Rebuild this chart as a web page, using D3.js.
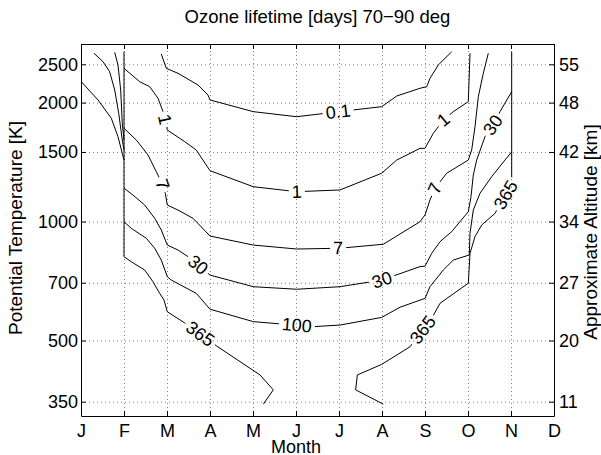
<!DOCTYPE html>
<html>
  <head>
    <title>Ozone lifetime</title>
    <script src="https://cdnjs.cloudflare.com/ajax/libs/d3/7.8.5/d3.min.js"></script>
    <style>
      body {
        margin: 0;
        background: #ffffff;
      }
      svg {
        font-family: "Liberation Sans", Arial, Helvetica, sans-serif;
      }
      .grid line {
        stroke: #808080;
        stroke-width: 1px;
        stroke-dasharray: 1, 3;
      }
      .grid .domain {
        display: none;
      }
      .axis .domain,
      .axis line {
        stroke: #000;
        stroke-width: 1px;
      }
      .axis text {
        font-size: 18px;
        fill: #000;
      }
      .contour {
        fill: none;
        stroke: #000;
        stroke-width: 1px;
      }
      .clabel {
        font-size: 18px;
        fill: #000;
      }
    </style>
  </head>
  <body>
    <svg id="chart" width="601" height="455"></svg>
    <script>
      // axis data
      const months = [1, 2, 3, 4, 5, 6, 7, 8, 9, 10, 11, 12];
      const monthLabels = ["J", "F", "M", "A", "M", "J", "J", "A", "S", "O", "N", "D"];
      const thetaTicks = [350, 500, 700, 1000, 1500, 2000, 2500];
      const altitudeLabels = ["11", "20", "27", "34", "42", "48", "55"];

      // contour lines, [month, potential temperature K], one array per piece
      const level01 = [
        [[1.007, 2259], [1.395, 2031], [1.705, 1825], [1.86, 1640], [1.96, 1488], [2, 1431]],
        [[2.867, 2655], [2.984, 2442], [3.256, 2372], [3.721, 2216], [3.953, 2090], [4, 2031],
         [5.007, 1897], [6.016, 1842], [7.333, 1916], [7.993, 1953], [8.342, 2078], [8.884, 2174],
         [9.04, 2194], [9.116, 2304], [9.309, 2490], [9.621, 2690]]
      ];
      const level1 = [
        [[1.302, 2666], [1.512, 2538], [1.667, 2394], [1.784, 2152], [1.877, 1879], [1.96, 1608], [2, 1517]],
        [[2, 2442], [2.093, 2394], [2.365, 2259], [2.598, 2194], [2.791, 2051], [2.907, 1897],
         [3.007, 1705], [3.412, 1593], [3.681, 1517], [4, 1345], [5.007, 1225], [6.016, 1190],
         [7.023, 1202], [7.993, 1325], [8.342, 1431], [8.884, 1532], [9, 1532], [9.193, 1672],
         [9.426, 1807], [9.658, 1897], [10.007, 2011], [10.047, 2666]]
      ];
      const level7 = [
        [[1.784, 2680], [1.86, 2490], [1.923, 2152], [1.96, 1773], [2, 1608]],
        [[2, 1722], [2.286, 1608], [2.558, 1474], [2.751, 1337], [2.867, 1261], [2.96, 1179],
         [3.007, 1101], [3.256, 1069], [3.605, 1019], [4, 919], [5.007, 872], [6.016, 852],
         [7.023, 856], [8.03, 876], [8.884, 999], [9, 1039], [9.116, 1134], [9.233, 1214],
         [9.505, 1325], [10.007, 1431], [10.086, 1517], [10.163, 1738], [10.24, 2070],
         [10.356, 2372], [10.472, 2666]]
      ];
      const level30 = [
        [[2, 1214], [2.209, 1167], [2.481, 1101], [2.714, 1019], [2.867, 952], [3.007, 872],
         [3.256, 847], [3.488, 815], [4, 732], [5.007, 684], [6.016, 674], [7.023, 684],
         [7.993, 711], [8.884, 769], [9, 771], [9.156, 831], [9.349, 889], [9.621, 943],
         [10.007, 1059], [10.07, 1156], [10.123, 1311], [10.202, 1431], [10.395, 1640],
         [10.581, 1755], [10.744, 1897], [11.016, 2131]]
      ];
      const level100 = [
        [[2, 999], [2.17, 961], [2.519, 907], [2.714, 856], [2.867, 799], [3.007, 725], [3.1, 711],
         [3.681, 658], [4, 600], [5.007, 558], [6.402, 542], [7.023, 547], [7.993, 572],
         [8.419, 607], [9, 639], [9.116, 684], [9.426, 754], [9.658, 799], [10.03, 823],
         [10.047, 934], [10.123, 1069], [10.279, 1179], [10.551, 1299], [10.86, 1431], [11.016, 1500]]
      ];
      const level365 = [
        [[2, 2690], [2, 815], [2.17, 791], [2.481, 754], [2.674, 704], [2.83, 658], [2.93, 633],
         [3.007, 591], [3.412, 554], [4.156, 484], [5.163, 409], [5.472, 375], [5.24, 345]],
        [[8.03, 345], [7.388, 375], [7.426, 409], [7.993, 435], [8.651, 482], [9.156, 569],
         [9.349, 621], [10.007, 698], [10.047, 831], [10.163, 916], [10.319, 980],
         [10.628, 1049], [11.016, 1237], [11.016, 2690]]
      ];

      // months at which each level carries an inline label
      const labels01 = [6.98];
      const labels1 = [2.95, 6.02, 9.43];
      const labels7 = [2.89, 6.98, 9.23];
      const labels30 = [3.72, 8.0, 10.58];
      const labels100 = [6.02];
      const labels365 = [3.77, 8.95, 10.88];

      const contours = [
        { text: "0.1", segments: level01, at: labels01 },
        { text: "1", segments: level1, at: labels1 },
        { text: "7", segments: level7, at: labels7 },
        { text: "30", segments: level30, at: labels30 },
        { text: "100", segments: level100, at: labels100 },
        { text: "365", segments: level365, at: labels365 },
      ];

      const svg = d3.select("#chart");
      const plotLeft = 81, plotRight = 554, plotTop = 44, plotBottom = 416;

      const x = d3.scaleLinear().domain([1, 12]).range([plotLeft, plotRight]);
      const y = d3.scaleLog().domain([322, 2814]).range([plotBottom, plotTop]);

      // dotted grid
      svg.append("g")
        .attr("class", "grid")
        .attr("transform", `translate(0,${plotBottom})`)
        .call(d3.axisBottom(x).tickValues(months.slice(1, -1)).tickSize(-(plotBottom - plotTop)).tickFormat(""));
      svg.append("g")
        .attr("class", "grid")
        .attr("transform", `translate(${plotLeft},0)`)
        .call(d3.axisLeft(y).tickValues(thetaTicks).tickSize(-(plotRight - plotLeft)).tickFormat(""));

      // contour lines with gaps under the labels
      const defs = svg.append("defs");
      defs.append("clipPath").attr("id", "plot")
        .append("rect")
        .attr("x", plotLeft).attr("y", plotTop)
        .attr("width", plotRight - plotLeft).attr("height", plotBottom - plotTop);
      const mask = defs.append("mask")
        .attr("id", "gaps")
        .attr("maskUnits", "userSpaceOnUse")
        .attr("x", 0).attr("y", 0).attr("width", 601).attr("height", 455);
      mask.append("rect")
        .attr("width", 601).attr("height", 455).attr("fill", "#fff");

      const line = d3.line().x((d) => x(d[0])).y((d) => y(d[1]));

      const lines = svg.append("g")
        .attr("clip-path", "url(#plot)")
        .append("g")
        .attr("mask", "url(#gaps)");

      contours.forEach((c) => {
        lines.selectAll(null)
          .data(c.segments)
          .enter()
          .append("path")
          .attr("class", "contour")
          .attr("d", line);
      });

      // find point and direction on a contour at a given month
      function locate(segments, m) {
        for (const seg of segments) {
          for (let i = 0; i < seg.length - 1; i++) {
            const a = seg[i], b = seg[i + 1];
            if (a[0] === b[0]) continue;
            if ((a[0] - m) * (b[0] - m) <= 0) {
              const x0 = x(a[0]), y0 = y(a[1]), x1 = x(b[0]), y1 = y(b[1]);
              const t = (x(m) - x0) / (x1 - x0);
              let angle = (Math.atan2(y1 - y0, x1 - x0) * 180) / Math.PI;
              if (angle > 90) angle -= 180;
              if (angle < -90) angle += 180;
              return { px: x0 + t * (x1 - x0), py: y0 + t * (y1 - y0), angle };
            }
          }
        }
        return null;
      }

      const labelLayer = svg.append("g");
      contours.forEach((c) => {
        c.at.forEach((m) => {
          const p = locate(c.segments, m);
          if (!p) return;
          const tr = `translate(${p.px},${p.py}) rotate(${p.angle})`;
          const t = labelLayer.append("text")
            .attr("class", "clabel")
            .attr("transform", tr)
            .attr("text-anchor", "middle")
            .attr("dominant-baseline", "central")
            .text(c.text);
          const w = t.node().getComputedTextLength();
          mask.append("rect")
            .attr("transform", tr)
            .attr("x", -w / 2 - 3)
            .attr("y", -8)
            .attr("width", w + 6)
            .attr("height", 16)
            .attr("fill", "#000");
        });
      });

      // axes, ticks pointing inward
      svg.append("g")
        .attr("class", "axis")
        .attr("transform", `translate(0,${plotBottom})`)
        .call(d3.axisBottom(x).tickValues(months).tickFormat((d, i) => monthLabels[i])
          .tickSizeInner(-5).tickSizeOuter(0).tickPadding(8));
      svg.append("g")
        .attr("class", "axis")
        .attr("transform", `translate(0,${plotTop})`)
        .call(d3.axisTop(x).tickValues(months).tickFormat("").tickSizeInner(-5).tickSizeOuter(0));
      svg.append("g")
        .attr("class", "axis")
        .attr("transform", `translate(${plotLeft},0)`)
        .call(d3.axisLeft(y).tickValues(thetaTicks).tickFormat(d3.format("d"))
          .tickSizeInner(-5).tickSizeOuter(0).tickPadding(3));
      svg.append("g")
        .attr("class", "axis")
        .attr("transform", `translate(${plotRight},0)`)
        .call(d3.axisRight(y).tickValues(thetaTicks).tickFormat((d, i) => altitudeLabels[i])
          .tickSizeInner(-5).tickSizeOuter(0).tickPadding(5));

      // titles
      svg.append("text")
        .attr("x", (plotLeft + plotRight) / 2)
        .attr("y", 23)
        .attr("text-anchor", "middle")
        .style("font-size", "18.5px")
        .text("Ozone lifetime [days] 70\u221290 deg");
      svg.append("text")
        .attr("x", x(6))
        .attr("y", 453)
        .attr("text-anchor", "middle")
        .style("font-size", "18px")
        .text("Month");
      svg.append("text")
        .attr("transform", "translate(22,228) rotate(-90)")
        .attr("text-anchor", "middle")
        .style("font-size", "19px")
        .text("Potential Temperature [K]");
      svg.append("text")
        .attr("transform", "translate(597,232) rotate(-90)")
        .attr("text-anchor", "middle")
        .style("font-size", "19px")
        .text("Approximate Altitude [km]");
    </script>
  </body>
</html>
